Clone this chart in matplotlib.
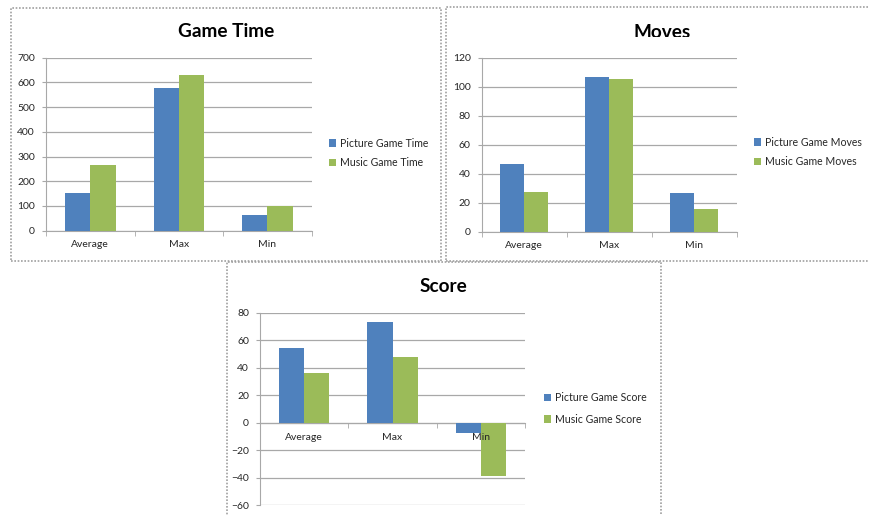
import matplotlib
matplotlib.use('Agg')
import matplotlib.pyplot as plt
import numpy as np
from matplotlib.patches import Rectangle, Patch
from matplotlib.transforms import Bbox, TransformedBbox

plt.rcParams['font.family'] = ['Lato', 'DejaVu Sans']

categories = ['Average', 'Max', 'Min']
time_picture = [154, 576, 63]
time_music = [266, 629, 100]
moves_picture = [47, 107, 27]
moves_music = [27.5, 105, 16]
score_picture = [54.5, 73.5, -7]
score_music = [36.5, 48, -39]

BLUE = '#4F81BD'
GREEN = '#9BBB59'
GRID = '#a8a8a8'
TEXT = '#262626'
W, H = 869, 515

fig = plt.figure(figsize=(W / 100, H / 100), dpi=100)
fig.patch.set_facecolor('white')


def fx(x):
    return x / W


def fy(y):
    return 1 - y / H


def panel(left, top, right, bottom, z):
    """Rahmen gepunktet wie im Excel-Diagramm"""
    r = Rectangle((fx(left), fy(bottom)), fx(right - left), (bottom - top) / H,
                  transform=fig.transFigure, facecolor='white', edgecolor='#a0a0a0',
                  linewidth=1.2, linestyle=(0, (1, 1)), zorder=z)
    fig.add_artist(r)


def chart(left, top, right, bottom, ymin, ymax, step, pic, mus, z):
    ax = fig.add_axes([fx(left), fy(bottom), fx(right - left), (bottom - top) / H], zorder=z)
    ax.set_facecolor('none')
    x = np.arange(len(categories))
    w = 1 / 3.5
    ax.bar(x - w / 2, pic, w, color=BLUE, zorder=1.5)
    ax.bar(x + w / 2, mus, w, color=GREEN, zorder=1.5)
    ax.set_xlim(-0.5, len(categories) - 0.5)
    ax.set_ylim(ymin, ymax)
    ax.set_yticks(np.arange(ymin, ymax + step, step))
    ax.yaxis.grid(True, color=GRID, linewidth=0.9)
    # Gitter hinter den Balken, Kategorienbeschriftung davor
    ax.yaxis.set_zorder(0.5)
    ax.xaxis.set_zorder(2.5)
    for s in ['top', 'right']:
        ax.spines[s].set_visible(False)
    ax.spines['left'].set_color(GRID)
    ax.spines['left'].set_zorder(0.6)
    ax.spines['bottom'].set_color(GRID)
    ax.spines['bottom'].set_zorder(0.6)
    if ymin < 0:
        ax.spines['bottom'].set_position(('data', 0))
    ax.set_xticks(x)
    ax.set_xticklabels(categories)
    ax.set_xticks(np.arange(-0.5, len(categories), 1), minor=True)
    ax.tick_params(axis='x', which='major', length=0, pad=7, labelsize=7.5, labelcolor=TEXT)
    ax.tick_params(axis='x', which='minor', length=3.5, color=GRID, direction='out')
    ax.tick_params(axis='y', length=3, pad=5, color=GRID, labelsize=7.5, labelcolor=TEXT)
    return ax


def legend(ax, labels, x, y, spacing):
    handles = [Patch(facecolor=BLUE), Patch(facecolor=GREEN)]
    ax.legend(handles, labels, loc='center left', bbox_to_anchor=(fx(x), fy(y)),
              bbox_transform=fig.transFigure, frameon=False, fontsize=7.6,
              handlelength=0.7, handleheight=0.7, handletextpad=0.3,
              labelspacing=spacing, borderpad=0, borderaxespad=0, labelcolor=TEXT)


def title(x, y, s, z, clip=None):
    t = fig.text(fx(x), fy(y), s, ha='center', va='baseline', fontsize=13.7,
                 fontweight='bold', color='black', zorder=z)
    if clip is not None:
        x0, y0, x1, y1 = clip
        t.set_clip_box(TransformedBbox(Bbox([[fx(x0), fy(y1)], [fx(x1), fy(y0)]]),
                                       fig.transFigure))
        t.set_clip_on(True)
    return t


# Game Time
panel(11, 8, 441, 261, 1)
ax1 = chart(46, 57.7, 311.7, 230.7, 0, 700, 100, time_picture, time_music, 2)
title(226, 36.7, 'Game Time', 3)
legend(ax1, ['Picture Game Time', 'Music Game Time'], 329, 153, 0.85)

# Moves
panel(446, 7, 875, 261, 1)
ax2 = chart(481.7, 57.7, 736.7, 231.7, 0, 120, 20, moves_picture, moves_music, 2)
title(661.7, 37.8, 'Moves', 3, clip=(446, 23.3, 869, 36.8))
legend(ax2, ['Picture Game Moves', 'Music Game Moves'], 754, 152, 0.85)

# Score
panel(227, 262, 661, 530, 5)
ax3 = chart(260, 313, 525, 505.3, -60, 80, 20, score_picture, score_music, 6)
title(443, 292.3, 'Score', 7)
legend(ax3, ['Picture Game Score', 'Music Game Score'], 544, 408.5, 0.95)

fig.savefig('out.png', dpi=100)
